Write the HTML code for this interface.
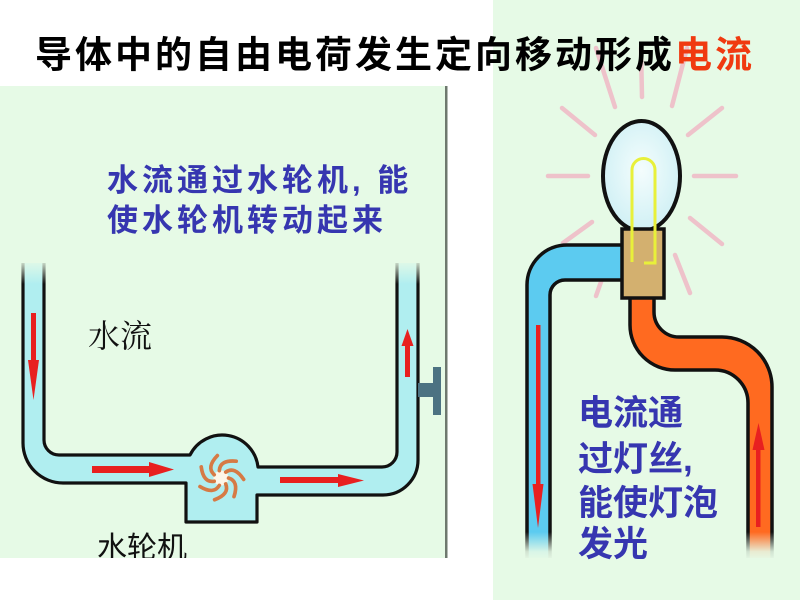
<!DOCTYPE html>
<html><head><meta charset="utf-8"><style>
html,body{margin:0;padding:0;background:#fff;width:800px;height:600px;overflow:hidden}
svg{display:block}
.cjk{font-family:"Liberation Sans","Noto Sans CJK SC",sans-serif}
.ser{font-family:"Liberation Serif","Noto Serif CJK SC",serif}
</style></head><body>
<svg width="800" height="600" viewBox="0 0 800 600" xmlns="http://www.w3.org/2000/svg">
<defs>
<linearGradient id="fadeTop" x1="0" y1="0" x2="0" y2="1">
<stop offset="0" stop-color="#e6fae6" stop-opacity="1"/>
<stop offset="0.3" stop-color="#e6fae6" stop-opacity="0.9"/>
<stop offset="1" stop-color="#e6fae6" stop-opacity="0"/>
</linearGradient>
<linearGradient id="fadeBot" x1="0" y1="0" x2="0" y2="1">
<stop offset="0" stop-color="#e6fae6" stop-opacity="0"/>
<stop offset="0.7" stop-color="#e6fae6" stop-opacity="0.9"/>
<stop offset="1" stop-color="#e6fae6" stop-opacity="1"/>
</linearGradient>
<radialGradient id="bulbG" cx="0.5" cy="0.45" r="0.6">
<stop offset="0" stop-color="#f4fdfd"/>
<stop offset="1" stop-color="#cdeff4"/>
</radialGradient>
<clipPath id="leftClip"><rect x="0" y="86" width="446" height="472"/></clipPath>
</defs>

<!-- backgrounds -->
<rect x="493" y="0" width="307" height="600" fill="#e6fae6"/>
<rect x="0" y="86" width="445" height="472" fill="#e6fae6"/>
<rect x="445" y="86" width="2.5" height="472" fill="#6e786e"/>

<!-- rays -->
<g stroke="#efbcc8" stroke-width="4.5" stroke-linecap="round" opacity="0.9">
<line x1="548" y1="176" x2="588" y2="176"/>
<line x1="694" y1="176" x2="736" y2="176"/>
<line x1="562" y1="108" x2="595" y2="135"/>
<line x1="722" y1="108" x2="688" y2="135"/>
<line x1="596" y1="48" x2="615" y2="107"/>
<line x1="641" y1="48" x2="642" y2="97"/>
<line x1="687" y1="48" x2="672" y2="106"/>
<line x1="563" y1="243" x2="592" y2="222"/>
<line x1="690" y1="218" x2="722" y2="244"/>
<line x1="596" y1="296" x2="608" y2="262"/>
<line x1="675" y1="255" x2="690" y2="293"/>
</g>

<!-- title -->
<text x="35" y="67.5" class="cjk" font-size="37" font-weight="bold" letter-spacing="3" fill="#000">导体中的自由电荷发生定向移动形成<tspan fill="#f03a10">电流</tspan></text>

<!-- LEFT PANEL -->
<g clip-path="url(#leftClip)">
<path d="M23,263 L23,443 A40,40 0 0 0 63,483 L186,483 L186,522 L257,522 L257,495 L383,495 A35,35 0 0 0 418,460 L418,263 L397,263 L397,452 A15,15 0 0 1 382,467 L258,467 A36,36 0 0 0 190,455 L59,455 A15,15 0 0 1 44,440 L44,263 Z" fill="#b0eef0"/>
<g fill="none" stroke="#111" stroke-width="3.2" stroke-linejoin="round">
<path d="M23,263 L23,443 A40,40 0 0 0 63,483 L186,483 L186,522 L257,522 L257,495 L383,495 A35,35 0 0 0 418,460 L418,263"/>
<path d="M397,263 L397,452 A15,15 0 0 1 382,467 L258,467 A36,36 0 0 0 190,455 L59,455 A15,15 0 0 1 44,440 L44,263"/>
</g>
<rect x="14" y="252" width="40" height="32" fill="url(#fadeTop)"/>
<rect x="388" y="252" width="40" height="32" fill="url(#fadeTop)"/>

<!-- valve -->
<rect x="418" y="383" width="16" height="14" fill="#4c7282"/>
<rect x="433" y="367" width="8" height="48" fill="#4c7282"/>

<!-- turbine fan -->
<g transform="translate(221,478) scale(1.08)" fill="none" stroke="#d67a45" stroke-width="3.4" stroke-linecap="round">
<circle cx="0" cy="0" r="7" fill="#fdf6e8" stroke="none"/>
<path d="M7,0 Q16.74,2.95 12.05,17.2"/>
<path d="M4.37,5.47 Q8.14,14.92 -5.93,20.15"/>
<path d="M-1.56,6.82 Q-6.61,15.66 -19.46,7.9"/>
<path d="M-6.31,3.03 Q-16.37,4.6 -18.31,-10.28"/>
<path d="M-6.31,-3.03 Q-13.81,-9.92 -3.39,-20.72"/>
<path d="M-1.56,-6.82 Q-0.86,-16.98 14.08,-15.58"/>
<path d="M4.37,-5.47 Q12.75,-11.24 20.96,1.32"/>
</g>

<!-- red arrows left -->
<g fill="#e82020">
<rect x="31" y="313" width="5" height="52"/>
<polygon points="28,360 39,360 33.5,400"/>
<rect x="92" y="466" width="60" height="7"/>
<polygon points="149,462 149,477 174,469.5"/>
<rect x="280" y="477" width="62" height="6"/>
<polygon points="338,474 338,487 364,480.5"/>
<rect x="405" y="343" width="5" height="34"/>
<polygon points="401.5,346 413.5,346 407.5,329"/>
</g>

<text x="88" y="347" class="ser" font-size="32" fill="#111">水流</text>
<text x="97" y="558" class="cjk" font-size="30" fill="#111">水轮机</text>
</g>

<text class="cjk" font-size="31" font-weight="bold" letter-spacing="4" fill="#3636b0">
<tspan x="107" y="191">水流通过水轮机, 能</tspan>
<tspan x="107" y="231">使水轮机转动起来</tspan>
</text>

<!-- RIGHT PANEL: pipes -->
<path d="M622,245 L567,245 A40,40 0 0 0 527,285 L527,558 L550,558 L550,295 A15,15 0 0 1 565,280 L622,280 Z" fill="#5ccbf0"/>
<g fill="none" stroke="#111" stroke-width="3.5">
<path d="M622,245 L567,245 A40,40 0 0 0 527,285 L527,558"/>
<path d="M622,280 L565,280 A15,15 0 0 0 550,295 L550,558"/>
</g>
<path d="M630,298 L630,325 A45,45 0 0 0 675,370 L715,370 A33,33 0 0 1 748,403 L748,558 L772,558 L772,387 A50,50 0 0 0 722,337 L679,337 A25,25 0 0 1 654,312 L654,298 Z" fill="#ff6a20"/>
<g fill="none" stroke="#111" stroke-width="3.5">
<path d="M630,298 L630,325 A45,45 0 0 0 675,370 L715,370 A33,33 0 0 1 748,403 L748,558"/>
<path d="M654,298 L654,312 A25,25 0 0 0 679,337 L722,337 A50,50 0 0 1 772,387 L772,558"/>
</g>
<rect x="520" y="532" width="38" height="28" fill="url(#fadeBot)"/>
<rect x="741" y="532" width="38" height="28" fill="url(#fadeBot)"/>

<!-- red arrows right -->
<g fill="#e82020">
<rect x="536" y="325" width="4.5" height="162"/>
<polygon points="532.5,484 543.5,484 538,528"/>
<rect x="756" y="447" width="4.5" height="80"/>
<polygon points="752.5,450 764.5,450 758.5,423"/>
</g>

<!-- bulb -->
<ellipse cx="641.5" cy="176" rx="38.5" ry="55" fill="url(#bulbG)" stroke="#111" stroke-width="4"/>
<rect x="622" y="229" width="42" height="69" fill="#d3b06f" stroke="#111" stroke-width="3.5"/>
<path d="M632,262 L632,170 A11.5,11.5 0 0 1 655,170 L655,263 L644,263" fill="none" stroke="#e8f03a" stroke-width="3"/>

<text class="cjk" font-size="35" font-weight="bold" fill="#3636b0">
<tspan x="578" y="425">电流通</tspan>
<tspan x="578" y="471">过灯丝,</tspan>
<tspan x="578" y="515">能使灯泡</tspan>
<tspan x="578" y="556">发光</tspan>
</text>
</svg>
</body></html>
